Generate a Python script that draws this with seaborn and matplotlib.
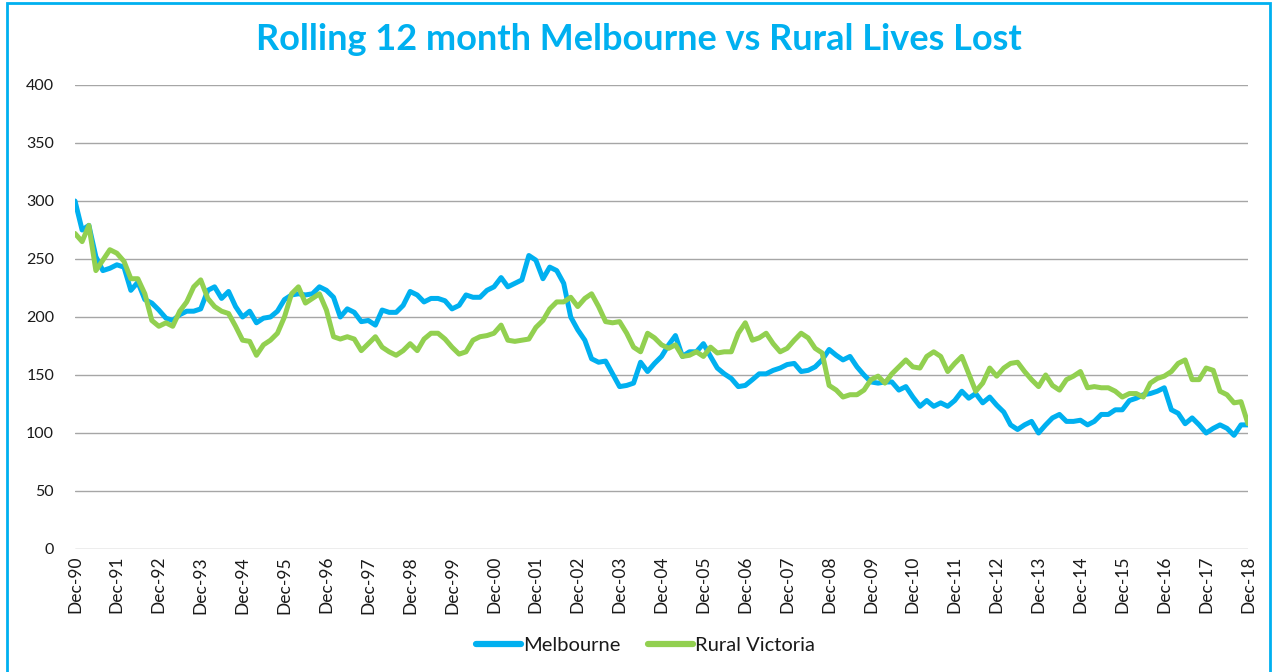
import numpy as np
import pandas as pd
import matplotlib
matplotlib.use("Agg")
import matplotlib.pyplot as plt
import matplotlib.dates as mdates
from matplotlib.patches import Rectangle
import seaborn as sns

# rolling 12 month lives lost, read every second month from Dec-90 to Dec-18
start_month = "1990-12-01"

melbourne = [
    300, 275, 279, 252, 240, 242, 245, 243, 223, 230, 215, 212,
    206, 199, 197, 202, 205, 205, 207, 223, 226, 216, 222, 209,
    200, 205, 195, 199, 200, 205, 215, 219, 220, 219, 220, 226,
    223, 217, 200, 207, 204, 196, 197, 193, 206, 204, 204, 210,
    222, 219, 213, 216, 216, 214, 207, 210, 219, 217, 217, 223,
    226, 234, 226, 229, 232, 253, 249, 233, 243, 240, 229, 200,
    189, 180, 164, 161, 162, 151, 140, 141, 143, 161, 153, 160,
    166, 176, 184, 166, 170, 170, 177, 166, 156, 151, 147, 140,
    141, 146, 151, 151, 154, 156, 159, 160, 153, 154, 157, 163,
    172, 167, 163, 166, 157, 150, 144, 143, 144, 144, 137, 140,
    131, 123, 128, 123, 126, 123, 128, 136, 130, 134, 126, 131,
    124, 118, 107, 103, 107, 110, 100, 107, 113, 116, 110, 110,
    111, 107, 110, 116, 116, 120, 120, 128, 130, 133, 134, 136,
    139, 120, 117, 108, 113, 107, 100, 104, 107, 104, 98, 107,
    107,
]

rural_victoria = [
    272, 265, 279, 240, 249, 258, 255, 248, 233, 233, 220, 197,
    192, 195, 192, 205, 213, 226, 232, 216, 209, 205, 203, 192,
    180, 179, 167, 176, 180, 186, 200, 220, 226, 212, 216, 220,
    206, 183, 181, 183, 181, 171, 177, 183, 174, 170, 167, 171,
    177, 171, 181, 186, 186, 181, 174, 168, 170, 180, 183, 184,
    186, 193, 180, 179, 180, 181, 191, 197, 207, 213, 213, 217,
    209, 216, 220, 209, 196, 195, 196, 186, 174, 170, 186, 182,
    176, 173, 176, 166, 167, 170, 166, 174, 169, 170, 170, 186,
    195, 180, 182, 186, 177, 170, 173, 180, 186, 182, 173, 169,
    141, 137, 131, 133, 133, 137, 146, 149, 143, 151, 157, 163,
    157, 156, 166, 170, 166, 153, 160, 166, 151, 136, 143, 156,
    149, 156, 160, 161, 153, 146, 140, 150, 141, 137, 146, 149,
    153, 139, 140, 139, 139, 136, 131, 134, 134, 131, 143, 147,
    149, 153, 160, 163, 146, 146, 156, 154, 136, 133, 126, 127,
    108,
]

y_ticks = [0, 50, 100, 150, 200, 250, 300, 350, 400]

months = pd.date_range(start_month, periods=len(melbourne), freq="2MS")
df = pd.DataFrame({"Month": months, "Melbourne": melbourne, "Rural Victoria": rural_victoria})
df = df.melt(id_vars="Month", var_name="Region", value_name="Lives Lost")

sns.set_style("white")
plt.rcParams["font.family"] = ["Lato", "DejaVu Sans"]

W, H = 1273, 672
fig = plt.figure(figsize=(W / 100, H / 100), dpi=100)
ax = fig.add_axes([75 / W, 1 - 549 / H, (1248 - 75) / W, (549 - 85) / H])

colors = {"Melbourne": "#00B0F0", "Rural Victoria": "#92D050"}
sns.lineplot(data=df, x="Month", y="Lives Lost", hue="Region", palette=colors,
             linewidth=3.6, ax=ax)

handles, labels = ax.get_legend_handles_labels()
ax.get_legend().remove()
for h in handles:
    h.set_linewidth(4.5)
fig.legend(handles, labels, loc="center", bbox_to_anchor=(0.507, 1 - 645 / H), ncol=2,
           frameon=False, fontsize=14.5, handlelength=2.2, handletextpad=0.1,
           columnspacing=1.4, labelcolor="#1a1a1a")

ax.set_ylim(0, 400)
ax.set_yticks(y_ticks)
ax.set_xlim(months[0], months[-1])
ax.xaxis.set_major_locator(mdates.MonthLocator(bymonth=12))
ax.xaxis.set_major_formatter(mdates.DateFormatter("%b-%y"))
plt.setp(ax.get_xticklabels(), rotation=90)
ax.tick_params(axis="both", length=0, colors="#1a1a1a")
ax.tick_params(axis="y", pad=15, labelsize=11.5)
ax.tick_params(axis="x", pad=5, labelsize=12.5)
ax.yaxis.grid(True, color="#A6A6A6", linewidth=1)
ax.xaxis.grid(False)
ax.set_axisbelow(True)
for s in ax.spines.values():
    s.set_visible(False)
ax.set_xlabel("")
ax.set_ylabel("")

fig.text(0.502, 1 - 40 / H, "Rolling 12 month Melbourne vs Rural Lives Lost",
         ha="center", va="center", fontsize=26, fontweight="bold", color="#00B0F0")

fig.add_artist(Rectangle((7 / W, -0.01), (1270 - 7) / W, 1 - 3 / H + 0.01,
                         transform=fig.transFigure, fill=False,
                         edgecolor="#00B0F0", linewidth=2))

fig.savefig("out.png", dpi=100)
